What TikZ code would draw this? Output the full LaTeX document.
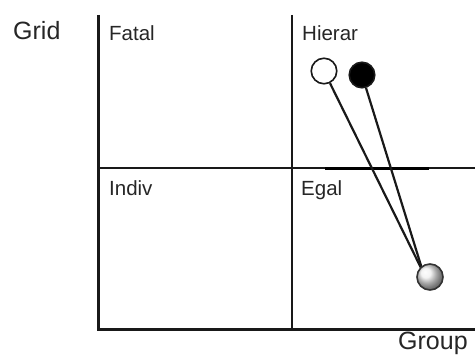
\documentclass[tikz,border=0pt]{standalone}
\usepackage{fontspec}
\setmainfont{Liberation Sans}
\begin{document}
\begin{tikzpicture}[x=1pt,y=-1pt,
  gridline/.style={line width=2.2pt,draw=black!90},
  axislabel/.style={anchor=base west,inner sep=0pt,text=black!85,font=\fontsize{25}{28}\selectfont},
  quadlabel/.style={anchor=base west,inner sep=0pt,text=black!85,font=\fontsize{20.5}{24}\selectfont},
  ball/.style={circle,minimum size=25.5pt,inner sep=0pt,line width=1.6pt,draw=black!90},
  link/.style={line width=2.2pt,draw=black!90}]
\useasboundingbox (0,0) rectangle (475,358);
% grid
\draw[gridline] (98.5,15) -- (98.5,329.5) -- (475,329.5);
\draw[gridline] (291.8,15) -- (291.8,329.5);
\draw[gridline] (98.5,168.3) -- (475,168.3);
\draw[line width=3pt,black] (325,168.5) -- (429,168.5);
% labels
\node[axislabel] (grid) at (13,40) {Grid};
\node[axislabel] (group) at (398,350) {Group};
\node[quadlabel] (fatal) at (109,41) {Fatal};
\node[quadlabel] (hierar) at (302,41) {Hierar};
\node[quadlabel] (indiv) at (109,196) {Indiv};
\node[quadlabel] (egal) at (301,196) {Egal};
% balls and links
\node[ball,fill=white] (w) at (324,71) {};
\node[ball,fill=black] (b) at (362,75) {};
\coordinate (E) at (423,272);
\draw[link] (w) -- (E);
\draw[link] (b) -- (E);
\node[ball,minimum size=26pt,draw=black!80,ball color=black!6] (g) at (430,277) {};
\end{tikzpicture}
\end{document}
